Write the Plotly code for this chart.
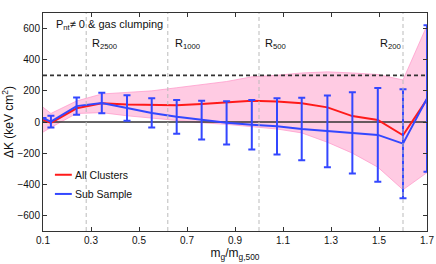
import plotly.graph_objects as go

# ---- data ----
x_red = [0.1, 0.133, 0.24, 0.345, 0.45, 0.553, 0.657, 0.761, 0.865, 0.97, 1.075, 1.178, 1.285, 1.389, 1.495, 1.6, 1.7]
red = [15, -5, 88, 120, 113, 109, 107, 116, 128, 136, 132, 120, 94, 38, 13, -85, 145]
band_upper = [95, 55, 135, 180, 190, 200, 220, 240, 260, 290, 300, 315, 322, 315, 305, 270, 620]
band_lower = [-65, -35, 55, 60, 40, 25, 10, -5, -15, -30, -45, -70, -130, -200, -290, -435, -325]

x_blue = [0.1, 0.133, 0.24, 0.345, 0.45, 0.553, 0.657, 0.761, 0.865, 0.97, 1.075, 1.178, 1.285, 1.389, 1.495, 1.6, 1.7]
blue = [25, 2, 102, 122, 90, 58, 33, 12, -5, -18, -28, -45, -60, -70, -83, -139, 151]
blue_err = [None, 38, 55, 66, 82, 94, 108, 124, 139, 159, 180, 201, 230, 261, 301, 350, 470]

radii_x = [0.28, 0.62, 1.0, 1.6]
radii_lab = ["R<sub>2500</sub>", "R<sub>1000</sub>", "R<sub>500</sub>", "R<sub>200</sub>"]
radii_lab_x = [0.296, 0.642, 1.015, 1.496]

xticks = [0.1, 0.3, 0.5, 0.7, 0.9, 1.1, 1.3, 1.5, 1.7]
yticks = [-600, -400, -200, 0, 200, 400, 600]

RED = "#ff1a1a"
BLUE = "#3347ff"
PINK = "rgba(255,200,226,0.95)"

fig = go.Figure()

# shaded band
fig.add_trace(go.Scatter(x=x_red, y=band_upper, mode="lines",
                         line=dict(color="rgba(255,150,200,0.9)", width=0.8),
                         showlegend=False, hoverinfo="skip"))
fig.add_trace(go.Scatter(x=x_red, y=band_lower, mode="lines", fill="tonexty",
                         fillcolor=PINK,
                         line=dict(color="rgba(255,150,200,0.9)", width=0.8),
                         showlegend=False, hoverinfo="skip"))

# horizontal reference lines
fig.add_trace(go.Scatter(x=[0.1, 1.7], y=[0, 0], mode="lines",
                         line=dict(color="#333333", width=1.5), showlegend=False, hoverinfo="skip"))
fig.add_trace(go.Scatter(x=[0.1, 1.7], y=[300, 300], mode="lines",
                         line=dict(color="#333333", width=1.8, dash="4px,3px"), showlegend=False, hoverinfo="skip"))

# red line
fig.add_trace(go.Scatter(x=x_red, y=red, mode="lines", name="All Clusters",
                         line=dict(color=RED, width=2), showlegend=False))
# blue line with error bars
fig.add_trace(go.Scatter(x=x_blue, y=blue, mode="lines", name="Sub Sample",
                         line=dict(color=BLUE, width=2),
                         error_y=dict(type="data", array=blue_err, visible=True,
                                      color=BLUE, thickness=2, width=3.5),
                         showlegend=False))

# vertical radius lines
for xv in radii_x:
    fig.add_vline(x=xv, line=dict(color="#bbbbbb", width=1, dash="4px,3px"), layer="above")

for lab, xl in zip(radii_lab, radii_lab_x):
    fig.add_annotation(x=xl, y=500, text=lab, showarrow=False, xanchor="left", yanchor="middle",
                       font=dict(size=11, color="#111111"))

fig.add_annotation(x=0.145, y=620, text="P<sub>nt</sub>\u2260 0 & gas clumping", showarrow=False,
                   xanchor="left", yanchor="middle", font=dict(size=11, color="#111111"))

# manual legend
for i, (name, col) in enumerate([("All Clusters", RED), ("Sub Sample", BLUE)]):
    yp = 0.258 - i * 0.088
    fig.add_shape(type="line", xref="paper", yref="paper", x0=0.031, x1=0.075, y0=yp, y1=yp,
                  line=dict(color=col, width=2))
    fig.add_annotation(xref="paper", yref="paper", x=0.078, y=yp, text=name, showarrow=False,
                       xanchor="left", yanchor="middle", font=dict(size=10.5, color="#111111"))

axis_common = dict(showline=True, linecolor="#333333", linewidth=1, mirror="ticks",
                   ticks="inside", ticklen=4, tickcolor="#333333", showgrid=False, zeroline=False,
                   automargin=False, ticklabeloverflow="allow",
                   tickfont=dict(size=10, color="#111111"))

fig.update_xaxes(range=[0.1, 1.7], tickvals=xticks, ticktext=[str(t) for t in xticks],
                 title=dict(text="m<sub>g</sub>/m<sub>g,500</sub>", font=dict(size=12, color="#111111"),
                            standoff=2),
                 **axis_common)
fig.update_yaxes(range=[-700, 700], tickvals=yticks,
                 title=dict(text="\u0394K (keV cm<sup>2</sup>)", font=dict(size=12, color="#111111"),
                            standoff=4),
                 **axis_common)

fig.update_layout(width=436, height=264, margin=dict(l=43, r=9, t=13, b=33),
                  paper_bgcolor="white", plot_bgcolor="white", hovermode=False,
                  font=dict(family="Liberation Sans, Arial, sans-serif"))

# remove the default 8px page margin so the figure fills the window exactly
fig.write_html("out.html", config={"displayModeBar": False, "staticPlot": True},
               post_script="document.body.style.margin='0';document.body.style.overflow='hidden';")
